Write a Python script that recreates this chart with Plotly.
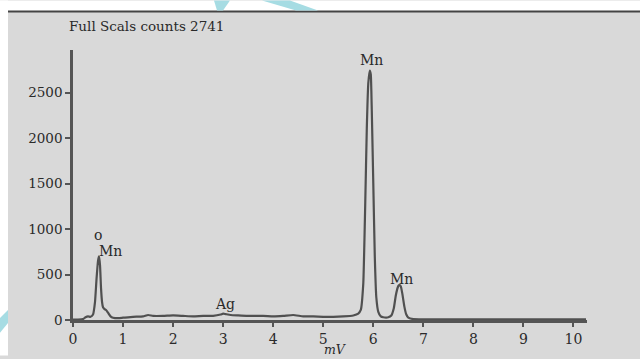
import plotly.graph_objects as go

# ---- data ----
energy_mV = [0.00, 0.10, 0.20, 0.25, 0.30, 0.35, 0.40, 0.44, 0.47, 0.50, 0.52, 0.54,
             0.56, 0.58, 0.60, 0.63, 0.66, 0.70, 0.75, 0.80, 0.90, 1.00, 1.20, 1.40,
             1.50, 1.60, 1.80, 2.00, 2.20, 2.40, 2.60, 2.80, 2.95, 3.00, 3.05, 3.15,
             3.30, 3.50, 3.80, 4.00, 4.20, 4.40, 4.60, 4.80, 5.00, 5.20, 5.40, 5.60,
             5.70, 5.75, 5.80, 5.84, 5.87, 5.90, 5.93, 5.95, 5.97, 6.00, 6.03, 6.06,
             6.10, 6.15, 6.20, 6.30, 6.36, 6.41, 6.45, 6.49, 6.51, 6.53, 6.55, 6.58,
             6.62, 6.66, 6.70, 6.80, 7.00, 7.50, 8.00, 8.50, 9.00, 9.50, 10.00, 10.25]
counts = [5, 5, 10, 30, 40, 35, 60, 200, 450, 650, 700, 600,
          350, 200, 140, 120, 110, 80, 40, 25, 20, 25, 35, 40,
          55, 45, 45, 50, 45, 40, 45, 45, 60, 70, 65, 55,
          50, 45, 45, 40, 45, 55, 40, 40, 35, 35, 40, 50,
          70, 110, 400, 1300, 2100, 2600, 2741, 2700, 2300, 1500, 700, 250,
          90, 40, 30, 30, 50, 130, 270, 360, 380, 385, 370, 290,
          150, 60, 25, 10, 8, 8, 6, 8, 6, 8, 6, 8]

y_ticks = [0, 500, 1000, 1500, 2000, 2500]
x_ticks = [0, 1, 2, 3, 4, 5, 6, 7, 8, 9, 10]

peak_labels = ["o", "Mn", "Ag", "Mn", "Mn"]
peak_label_x = [0.49, 0.74, 3.04, 5.97, 6.57]
peak_label_y = [935, 760, 174, 2860, 456]

title_text = "Full Scals counts 2741"
x_title = "mV"

# ---- geometry helpers (pixel -> paper) ----
W, H = 640, 359
L, R, T, B = 73, 53, 50, 36
pw, ph = W - L - R, H - T - B


def px(x):
    return (x - L) / pw


def py(y):
    return (H - B - y) / ph


SERIF = "DejaVu Serif, Liberation Serif, serif"
BG = "#d9d9d9"
INK = "#2a2a2a"
CYAN = "#a6dce3"

fig = go.Figure()
fig.add_trace(go.Scatter(
    x=energy_mV, y=counts, mode="lines",
    line=dict(color="#505050", width=2.2, shape="spline", smoothing=0.4),
    hoverinfo="skip", showlegend=False,
))

shapes = [
    # white margins (paper is gray)
    dict(type="rect", xref="paper", yref="paper", x0=px(0), x1=px(W), y0=py(11), y1=py(0),
         fillcolor="white", line=dict(width=0), layer="below"),
    dict(type="rect", xref="paper", yref="paper", x0=px(0), x1=px(8), y0=py(H), y1=py(0),
         fillcolor="white", line=dict(width=0), layer="below"),
    # top border line
    dict(type="line", xref="paper", yref="paper", x0=px(8), x1=px(W), y0=py(11), y1=py(11),
         line=dict(color="#444444", width=2)),
    # cyan decorative strokes
    dict(type="path", xref="paper", yref="paper",
         path="M {} {} L {} {} L {} {} L {} {} Z".format(px(262), py(0), px(290), py(0),
                                                        px(318), py(10), px(296), py(10)),
         fillcolor=CYAN, line=dict(width=0)),
    dict(type="path", xref="paper", yref="paper",
         path="M {} {} L {} {} L {} {} L {} {} Z".format(px(214), py(0), px(230), py(0),
                                                        px(223), py(10), px(217), py(10)),
         fillcolor=CYAN, line=dict(width=0)),
    dict(type="path", xref="paper", yref="paper",
         path="M {} {} L {} {} L {} {} L {} {} Z".format(px(0), py(321), px(8), py(313),
                                                        px(8), py(326), px(0), py(336)),
         fillcolor=CYAN, line=dict(width=0)),
]

annotations = [
    dict(text=title_text, xref="paper", yref="paper", x=px(67), y=py(26),
         xanchor="left", yanchor="middle", showarrow=False,
         font=dict(family=SERIF, size=13.5, color=INK)),
    dict(text="<i>" + x_title + "</i>", xref="paper", yref="paper", x=px(335), y=py(353),
         xanchor="center", yanchor="middle", showarrow=False,
         font=dict(family=SERIF, size=12.5, color=INK)),
]
for t, xx, yy in zip(peak_labels, peak_label_x, peak_label_y):
    annotations.append(dict(text=t, x=xx, y=yy, xref="x", yref="y", showarrow=False,
                            xanchor="center", yanchor="middle",
                            font=dict(family=SERIF, size=14, color=INK)))

fig.update_layout(
    width=W, height=H,
    margin=dict(l=L, r=R, t=T, b=B, pad=0),
    paper_bgcolor=BG, plot_bgcolor=BG,
    shapes=shapes, annotations=annotations,
    hovermode=False,
    xaxis=dict(range=[0, 10.27], tickvals=x_ticks, ticktext=[str(v) for v in x_ticks],
               showline=True, linecolor="#555555", linewidth=2.5,
               ticks="outside", ticklen=4, tickwidth=1.5, tickcolor="#555555",
               showgrid=False, zeroline=False,
               tickfont=dict(family=SERIF, size=14, color=INK)),
    yaxis=dict(range=[0, 2967], tickvals=y_ticks, ticktext=[str(v) for v in y_ticks],
               showline=True, linecolor="#555555", linewidth=2.5,
               ticks="outside", ticklen=5, tickwidth=1.5, tickcolor="#555555",
               showgrid=False, zeroline=False,
               tickfont=dict(family=SERIF, size=13.5, color=INK)),
)

fig.write_html("out.html", config={"displayModeBar": False},
               post_script="document.body.style.margin='0';document.body.style.overflow='hidden';")
